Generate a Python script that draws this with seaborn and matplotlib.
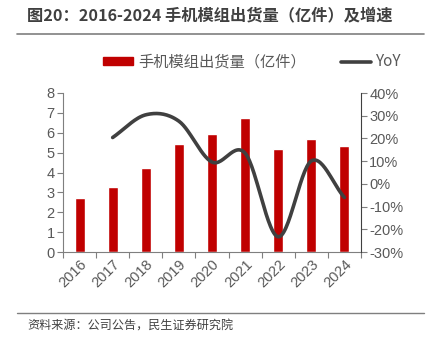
import numpy as np
import pandas as pd
import matplotlib
matplotlib.use("Agg")
import matplotlib.pyplot as plt
import seaborn as sns
from matplotlib.patches import Patch
from matplotlib.lines import Line2D

years = ["2016", "2017", "2018", "2019", "2020", "2021", "2022", "2023", "2024"]
shipments = [2.70, 3.25, 4.24, 5.41, 5.93, 6.73, 5.16, 5.68, 5.34]
yoy_years = ["2017", "2018", "2019", "2020", "2021", "2022", "2023", "2024"]
yoy = [20.4, 30.4, 27.6, 9.6, 13.5, -23.3, 10.1, -6.0]

left_ticks = [0, 1, 2, 3, 4, 5, 6, 7, 8]
right_ticks = [-30, -20, -10, 0, 10, 20, 30, 40]

sns.set_theme(style="white")
plt.rcParams['font.family'] = ['Liberation Sans', 'Noto Sans CJK SC', 'DejaVu Sans']

BAR = "#C00000"
LINE = "#404040"
TXT = "#595959"

fig = plt.figure(figsize=(4.29, 3.39), dpi=100)
ax = fig.add_axes([63/429, 1-252/339, (361-63)/429, (252-93)/339])

df = pd.DataFrame({"year": years, "val": shipments})
sns.barplot(data=df, x="year", y="val", color=BAR, width=0.3, ax=ax, saturation=1)
ax.set_xlim(-0.5, len(years) - 0.5)
ax.set_ylim(0, 8)
ax.set_yticks(left_ticks)
ax.set_yticklabels([str(t) for t in left_ticks], fontsize=10.5, color=TXT)
ax.set_xlabel("")
ax.set_ylabel("")
ax.set_xticks(np.arange(len(years)))
ax.set_xticklabels(years, rotation=45, ha="right", rotation_mode="anchor", fontsize=10.5, color=TXT)
ax.tick_params(axis="x", length=0, pad=4)
ax.set_xticks(np.arange(len(years) + 1) - 0.5, minor=True)
ax.tick_params(axis="x", which="minor", length=4, color="#7f7f7f", width=0.8, direction="out", bottom=True)
ax.tick_params(axis="y", length=4, color="#7f7f7f", width=0.8, direction="out", left=True, pad=2)
for s in ["top", "right"]:
    ax.spines[s].set_visible(False)
for s in ["left", "bottom"]:
    ax.spines[s].set_color("#7f7f7f")
    ax.spines[s].set_linewidth(0.8)

# secondary axis
ax2 = ax.twinx()
xpos = np.array([years.index(y) for y in yoy_years], dtype=float)
ypts = np.array(yoy, dtype=float)

# Catmull-Rom smoothing for drawing (Excel-like smoothed line)
P = np.column_stack([xpos, ypts])
Pext = np.vstack([2 * P[0] - P[1], P, 2 * P[-1] - P[-2]])
sx, sy = [], []
for i in range(1, len(Pext) - 2):
    p0, p1, p2, p3 = Pext[i - 1], Pext[i], Pext[i + 1], Pext[i + 2]
    t = np.linspace(0, 1, 30, endpoint=(i == len(Pext) - 3))[:, None]
    pts = 0.5 * ((2 * p1) + (-p0 + p2) * t + (2 * p0 - 5 * p1 + 4 * p2 - p3) * t**2
                 + (-p0 + 3 * p1 - 3 * p2 + p3) * t**3)
    sx.extend(pts[:, 0]); sy.extend(pts[:, 1])
sdf = pd.DataFrame({"x": sx, "y": sy})
sns.lineplot(data=sdf, x="x", y="y", sort=False, color=LINE, linewidth=2.6, ax=ax2)
ax2.set_ylim(-30, 40)
ax2.set_yticks(right_ticks)
ax2.set_yticklabels([f"{t}%" for t in right_ticks], fontsize=10.5, color=TXT)
ax2.set_xlabel(""); ax2.set_ylabel("")
ax2.tick_params(axis="y", length=4, color="#7f7f7f", width=0.8, direction="out", right=True, pad=2)
for s in ["top", "left", "bottom"]:
    ax2.spines[s].set_visible(False)
ax2.spines["right"].set_color("#404040")
ax2.spines["right"].set_linewidth(0.8)
ax2.set_xlim(-0.5, len(years) - 0.5)

# title and rules
fig.text(27/429, 1-15/339, "图20：2016-2024 手机模组出货量（亿件）及增速", fontsize=11.7,
         fontweight="bold", color="#404040", va="center", ha="left",
         family=['Noto Sans CJK SC', 'DejaVu Sans'])
fig.add_artist(Line2D([17/429, 424/429], [1-34/339, 1-34/339], color="#7f7f7f", linewidth=1.2))
fig.add_artist(Line2D([17/429, 424/429], [1-313/339, 1-313/339], color="#7f7f7f", linewidth=1.0))
fig.text(27/429, 1-326/339, "资料来源：公司公告，民生证券研究院", fontsize=8.7, color="#404040",
         va="center", ha="left", family=['Noto Sans CJK SC', 'DejaVu Sans'])

handles = [Patch(facecolor=BAR, edgecolor=BAR), Line2D([0], [0], color=LINE, linewidth=2.6)]
leg = fig.legend(handles, ["手机模组出货量（亿件）", "YoY"], loc="center", bbox_to_anchor=(252/429, 1-62/339),
                 ncol=2, frameon=False, handlelength=2.0, handleheight=0.5,
                 columnspacing=2.3, handletextpad=0.3, borderpad=0, borderaxespad=0,
                 prop={'family': ['Noto Sans CJK SC', 'DejaVu Sans'], 'size': 11})
for t in leg.get_texts():
    t.set_color(TXT)

fig.savefig("out.png", dpi=100)
